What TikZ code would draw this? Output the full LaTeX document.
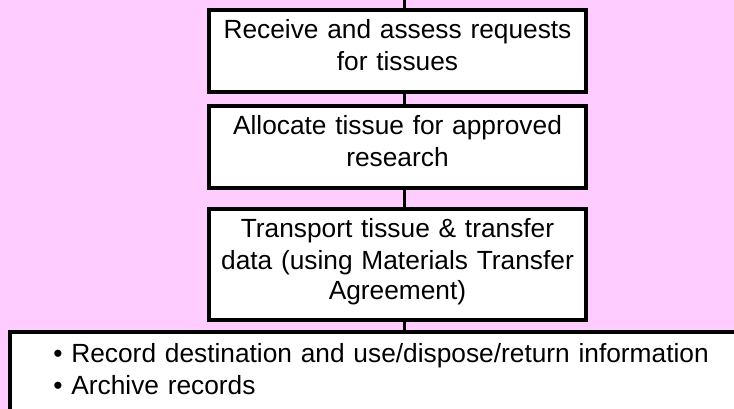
\documentclass[tikz,border=0pt]{standalone}
\usepackage{fontspec}
\setmainfont{Liberation Sans}
\definecolor{fondrose}{HTML}{FFCCFF}
\newcommand\etai{\rule[-0.39\baselineskip]{0pt}{\baselineskip}}
\tikzset{
  etape/.style={draw, line width=4pt, fill=white, minimum width=377pt,
    text width=365pt, align=center, inner xsep=6pt, inner ysep=0pt},
  lien/.style={line width=3pt}
}

\begin{document}
\begin{tikzpicture}[x=1pt, y=-1pt]
  \useasboundingbox (0,0) rectangle (734,409);
  \clip (0,0) rectangle (734,409);
  \fill[fondrose] (0,0) rectangle (734,409);

  % Les étapes
  \node[etape, minimum height=82pt, font=\fontsize{26.3}{32.7}\selectfont] (s1) at (397.5,51)
    {\etai Receive and assess requests\\for tissues\etai};
  \node[etape, minimum height=82pt, font=\fontsize{26.3}{32.7}\selectfont] (s2) at (397.5,147)
    {\etai Allocate tissue for approved\\research\etai};
  \node[etape, minimum height=111pt, font=\fontsize{26.3}{30}\selectfont] (s3) at (397.5,264.5)
    {\etai Transport tissue \& transfer\\data (using Materials Transfer\\Agreement)\etai};
  \node[etape, anchor=north west, text width=693pt, align=left, inner xsep=43.4pt,
    inner ysep=11.9pt, font=\fontsize{26.3}{30}\selectfont] (s4) at (8,329.5)
    {\etai\textbullet{} Record destination and use/dispose/return information\\
     \textbullet{} Archive records\etai};

  % Les liaisons
  \coordinate (axe) at (404.5,0);
  \draw[lien] (axe) -- (axe |- s1.north);
  \foreach \a/\b in {s1/s2, s2/s3, s3/s4} {
    \draw[lien] (axe |- \a.south) -- (axe |- \b.north);
  }
\end{tikzpicture}
\end{document}
